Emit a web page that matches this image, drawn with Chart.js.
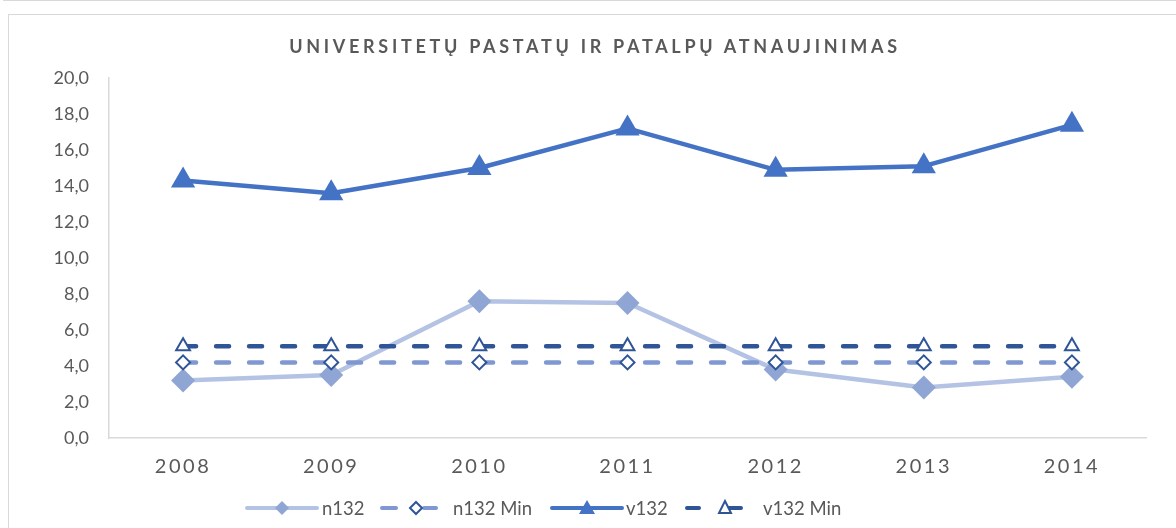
<!DOCTYPE html>
<html>
<head>
<meta charset="utf-8">
<script src="https://cdn.jsdelivr.net/npm/chart.js@4.4.1/dist/chart.umd.min.js"></script>
<style>
  html, body { margin: 0; padding: 0; background: #ffffff; }
  body { width: 1176px; height: 528px; position: relative; overflow: hidden; font-family: Lato, "Open Sans", sans-serif; }
  #topline { position: absolute; left: 3px; top: -10px; width: 1200px; height: 10px; border-left: 1px solid #d9d9d9; border-bottom: 1px solid #d9d9d9; }
  #frame { position: absolute; left: 8px; top: 14px; width: 1200px; height: 600px; border-left: 1px solid #d9d9d9; border-top: 1px solid #d9d9d9; }
  #title { position: absolute; left: 0; width: 1190px; top: 35px; text-align: center; font-family: Lato, sans-serif; font-weight: bold; font-size: 18px; letter-spacing: 3.7px; color: #595959; }
  #wrap { position: absolute; left: 0; top: 0; width: 1176px; height: 528px; }
  .lg { position: absolute; top: 497px; height: 22px; }
  .lgt { position: absolute; top: 496px; font-family: Lato, sans-serif; font-size: 18.5px; color: #595959; white-space: nowrap; line-height: 24px; }
</style>
</head>
<body>
<div id="topline"></div>
<div id="frame"></div>
<div id="wrap"><canvas id="c" width="1176" height="528"></canvas></div>
<div id="title">UNIVERSITETŲ PASTATŲ IR PATALPŲ ATNAUJINIMAS</div>

<svg class="lg" style="left:245px" width="74" height="22">
  <line x1="2" y1="11" x2="72" y2="11" stroke="#b4c3e4" stroke-width="4" stroke-linecap="round"/>
  <polygon points="37,4 44,11 37,18 30,11" fill="#8fa5d4"/>
</svg>
<div class="lgt" style="left:322px">n132</div>

<svg class="lg" style="left:378px" width="64" height="22">
  <line x1="4" y1="11" x2="18" y2="11" stroke="#7f98d2" stroke-width="4" stroke-linecap="round"/>
  <line x1="46" y1="11" x2="58" y2="11" stroke="#7f98d2" stroke-width="4" stroke-linecap="round"/>
  <polygon points="38,5 44,11 38,17 32,11" fill="#ffffff" stroke="#2f5597" stroke-width="2"/>
</svg>
<div class="lgt" style="left:453px">n132 Min</div>

<svg class="lg" style="left:550px" width="74" height="22">
  <line x1="2" y1="11" x2="72" y2="11" stroke="#4472c4" stroke-width="4" stroke-linecap="round"/>
  <polygon points="37,3 45,17 29,17" fill="#4472c4"/>
</svg>
<div class="lgt" style="left:626px">v132</div>

<svg class="lg" style="left:683px" width="64" height="22">
  <line x1="4" y1="11" x2="16" y2="11" stroke="#2f5597" stroke-width="4" stroke-linecap="round"/>
  <line x1="46" y1="11" x2="58" y2="11" stroke="#2f5597" stroke-width="4" stroke-linecap="round"/>
  <polygon points="42,4 48,16 36,16" fill="#ffffff" stroke="#2f5597" stroke-width="2"/>
</svg>
<div class="lgt" style="left:763px">v132 Min</div>

<script>
const years = ['2008', '2009', '2010', '2011', '2012', '2013', '2014'];
const n132 = [3.2, 3.5, 7.6, 7.5, 3.8, 2.8, 3.4];
const n132Min = [4.2, 4.2, 4.2, 4.2, 4.2, 4.2, 4.2];
const v132 = [14.3, 13.6, 15.0, 17.2, 14.9, 15.1, 17.4];
const v132Min = [5.1, 5.1, 5.1, 5.1, 5.1, 5.1, 5.1];
const yMin = 0, yMax = 20, yStep = 2;

const spacedX = {
  id: 'spacedX',
  beforeDraw(chart) {
    const s = chart.scales.x;
    if (!s._patched) {
      const orig = s.drawLabels;
      s.drawLabels = function (area) {
        const ctx = this.ctx;
        ctx.save();
        ctx.letterSpacing = '2.5px';
        orig.call(this, area);
        ctx.restore();
      };
      s._patched = true;
    }
  }
};

new Chart(document.getElementById('c'), {
  type: 'line',
  data: {
    labels: years,
    datasets: [
      { label: 'n132', data: n132, order: 4,
        borderColor: '#b4c3e4', borderWidth: 4.5, borderCapStyle: 'round', borderJoinStyle: 'round',
        pointStyle: 'rectRot', pointRadius: 12, pointBackgroundColor: '#8fa5d4', pointBorderColor: '#8fa5d4', pointBorderWidth: 0,
        tension: 0, fill: false },
      { label: 'n132 Min', data: n132Min, order: 3,
        borderColor: '#7f98d2', borderWidth: 4.5, borderDash: [13, 20], borderCapStyle: 'round',
        pointStyle: 'rectRot', pointRadius: 7, pointBackgroundColor: '#ffffff', pointBorderColor: '#2f5597', pointBorderWidth: 2,
        tension: 0, fill: false },
      { label: 'v132', data: v132, order: 2,
        borderColor: '#4472c4', borderWidth: 4.5, borderCapStyle: 'round', borderJoinStyle: 'round',
        pointStyle: 'triangle', pointRadius: 14, pointBackgroundColor: '#4472c4', pointBorderColor: '#4472c4', pointBorderWidth: 0,
        tension: 0, fill: false },
      { label: 'v132 Min', data: v132Min, order: 1,
        borderColor: '#2f5597', borderWidth: 4.5, borderDash: [13, 20], borderCapStyle: 'round',
        pointStyle: 'triangle', pointRadius: 8, pointBackgroundColor: '#ffffff', pointBorderColor: '#2f5597', pointBorderWidth: 2,
        tension: 0, fill: false }
    ]
  },
  options: {
    responsive: false,
    animation: false,
    events: [],
    layout: { padding: { left: 0, right: 30, top: 78, bottom: 50 } },
    plugins: { legend: { display: false }, title: { display: false }, tooltip: { enabled: false } },
    scales: {
      x: {
        offset: true,
        grid: { display: false, drawTicks: false },
        border: { display: true, color: '#d9d9d9', width: 1.5 },
        ticks: { color: '#595959', font: { family: 'Lato', size: 20 }, padding: 17, maxRotation: 0, autoSkip: false },
        afterFit(s) { s.height = 40; }
      },
      y: {
        min: yMin, max: yMax,
        grid: { display: false, drawTicks: false },
        border: { display: true, color: '#d9d9d9', width: 1.5 },
        ticks: { stepSize: yStep, color: '#595959', font: { family: 'Lato', size: 18 }, padding: 20,
          callback: v => v.toFixed(1).replace('.', ',') },
        afterFit(s) { s.width = 109; }
      }
    }
  },
  plugins: [spacedX]
});
</script>
</body>
</html>
